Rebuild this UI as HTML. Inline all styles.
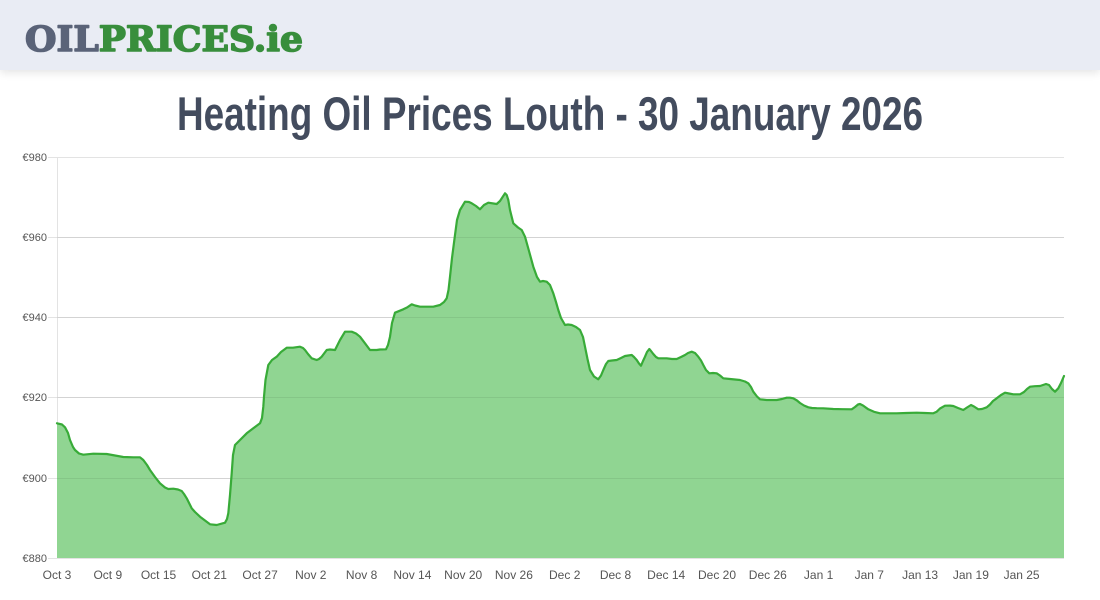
<!DOCTYPE html>
<html>
<head>
<meta charset="utf-8">
<style>
html,body{margin:0;padding:0;background:#fff;}
body{width:1100px;height:600px;overflow:hidden;position:relative;font-family:"Liberation Sans",Arial,sans-serif;}
.hdr{position:absolute;left:0;top:0;width:1100px;height:70px;background:#e9ecf4;box-shadow:0 3px 8px rgba(0,0,0,0.10);}
svg{position:absolute;left:0;top:0;}
</style>
</head>
<body>
<div class="hdr"></div>
<svg width="1100" height="600" viewBox="0 0 1100 600" xmlns="http://www.w3.org/2000/svg">
  <!-- logo -->
  <text x="25" y="51" font-family="DejaVu Serif, Liberation Serif, serif" font-weight="bold" font-size="35" stroke-width="1.6" stroke-linejoin="round" textLength="278" lengthAdjust="spacingAndGlyphs"><tspan fill="#5a6378" stroke="#5a6378">OIL</tspan><tspan fill="#388e3c" stroke="#388e3c">PRICES.ie</tspan></text>
  <!-- title -->
  <text x="177" y="130" font-family="Liberation Sans, Arial, sans-serif" font-weight="bold" font-size="47" fill="#434c5e" textLength="746" lengthAdjust="spacingAndGlyphs">Heating Oil Prices Louth - 30 January 2026</text>

  <!-- grid -->
  <g stroke="#e3e3e3" stroke-width="1">
    <line x1="48" y1="157.5" x2="1064" y2="157.5"/>
    <line x1="48" y1="237.5" x2="1064" y2="237.5"/>
    <line x1="48" y1="317.5" x2="1064" y2="317.5"/>
    <line x1="48" y1="397.5" x2="1064" y2="397.5"/>
    <line x1="48" y1="478.5" x2="1064" y2="478.5"/>
    <line x1="48" y1="558.5" x2="1064" y2="558.5"/>
    <line x1="57.5" y1="157" x2="57.5" y2="558"/>
  </g>

  <!-- area -->
  <path fill="#90d592" stroke="none" d="M57,558 L57,423.3 L62,424.5 L65,427.3 L68,433 L70,440 L73,447 L75,450 L79,453.5 L83.3,454.7 L93.3,453.7 L106.7,454 L115,455.5 L123.3,457 L133.3,457.3 L140,457.3 L143.3,460 L147,465 L150,470 L155,477 L160,483.3 L165,487.5 L168.3,489 L173.3,488.7 L178,489.5 L181.7,491 L184,494 L186.7,498.3 L191.7,508.3 L195,512 L200,516.7 L205,520.5 L210,524.3 L216.7,525 L225,522.7 L227,519 L228.3,513.3 L230,495 L231.7,473.3 L233,455 L235,445 L240,440 L246.7,433.3 L253.3,428.3 L260,423.3 L262,418 L263.3,406.7 L264,396.7 L265.5,380 L268.3,365 L272,360 L276.7,356.7 L281,352 L286.7,347.7 L293,347.7 L300,346.7 L303,348 L305,350 L308,354 L311.7,358.3 L316.7,360 L319,359 L321.7,356.7 L326.7,350 L330,349.5 L335,350 L337,346 L340,340 L345,331.7 L351.7,331.7 L356,333.5 L360,336.7 L365,343.3 L370,350 L376.7,350 L380,349.5 L386,349.3 L388,345 L390,336.7 L392,323 L395,312.7 L403.3,309.3 L407,307.5 L411.7,304.3 L415,305.5 L420,306.7 L433.3,306.7 L440,305 L444,302 L446.7,298.3 L448.5,290 L450,276.7 L452,258 L455,235 L457,220 L460,210 L465,201.7 L469,202 L471.7,203.3 L476,206 L480,209.3 L484,205 L488.3,202.7 L496.7,204 L500,201 L505,193.3 L506.7,195 L508.3,200 L510,210 L513.3,223.3 L518,227.5 L521.7,230 L525,236.7 L529,251 L533.3,266.7 L537,277 L540,281.7 L543,281 L546.7,281.7 L550,285 L553.3,293.3 L556,302 L558.3,310 L561,318 L565,325 L568,324.5 L571.7,325 L576,327 L580,330 L583,337 L585,346.7 L587.5,359 L590,370 L594,376.5 L598.3,379.3 L601,375.5 L603.3,370 L606,364 L608.3,361 L612,360.5 L616.7,360 L621,358 L625,356 L631.7,355 L634,357 L636.7,360 L639,363.5 L641,365.7 L643,361 L645,356.7 L647,352 L649.3,349 L651,351 L653.3,354 L656,357 L658.3,358.3 L666.7,358.3 L672,359 L676.7,359 L681,357 L685,355 L688,353 L691.7,351.7 L695,353 L698.3,356.7 L701,360.5 L703.3,365 L706,370 L709.3,373.3 L713,373 L716.7,373.3 L720,375.5 L723.3,378.3 L730,379 L740,380 L745,381.5 L748.3,383.3 L751,387 L753.3,391.7 L757,396.5 L760,399.3 L766.7,400 L776.7,400 L782,399 L786.7,397.7 L790,397.7 L793.3,398.3 L797,400.5 L800,403 L804,405.5 L808.3,407.3 L812,408 L816.7,408.2 L823.3,408.3 L833.3,409 L842,409.2 L851.7,409.3 L855,407 L858,404.5 L860,404 L863,405.5 L868.3,409.3 L874,411.8 L880,413.3 L888,413.3 L896.7,413.3 L906,413 L916.7,412.7 L925,413 L933.3,413.3 L936.7,411.7 L940,408.5 L945,405.7 L950,405.6 L953.3,406 L958,408 L963.3,410 L967,407.5 L971,405 L974,406.5 L978.3,409.3 L982,409 L986.7,407.3 L990,404.5 L993,401 L996.7,398.3 L1001,395 L1005,392.7 L1009,393.5 L1013.3,394.3 L1020,394.3 L1024,392 L1027,389 L1030,386.7 L1035,386.2 L1040,386 L1046,384 L1049,385 L1052,389 L1055,391.7 L1058.3,388.3 L1061,383 L1064,376 L1064,558 Z"/>

  <!-- grid over fill -->
  <g stroke="rgba(0,0,0,0.07)" stroke-width="1">
    <line x1="57" y1="237.5" x2="1064" y2="237.5"/>
    <line x1="57" y1="317.5" x2="1064" y2="317.5"/>
    <line x1="57" y1="397.5" x2="1064" y2="397.5"/>
    <line x1="57" y1="478.5" x2="1064" y2="478.5"/>
  </g>

  <!-- line -->
  <path fill="none" stroke="#38ab38" stroke-width="2.2" stroke-linejoin="round" stroke-linecap="round" d="M57,423.3 L62,424.5 L65,427.3 L68,433 L70,440 L73,447 L75,450 L79,453.5 L83.3,454.7 L93.3,453.7 L106.7,454 L115,455.5 L123.3,457 L133.3,457.3 L140,457.3 L143.3,460 L147,465 L150,470 L155,477 L160,483.3 L165,487.5 L168.3,489 L173.3,488.7 L178,489.5 L181.7,491 L184,494 L186.7,498.3 L191.7,508.3 L195,512 L200,516.7 L205,520.5 L210,524.3 L216.7,525 L225,522.7 L227,519 L228.3,513.3 L230,495 L231.7,473.3 L233,455 L235,445 L240,440 L246.7,433.3 L253.3,428.3 L260,423.3 L262,418 L263.3,406.7 L264,396.7 L265.5,380 L268.3,365 L272,360 L276.7,356.7 L281,352 L286.7,347.7 L293,347.7 L300,346.7 L303,348 L305,350 L308,354 L311.7,358.3 L316.7,360 L319,359 L321.7,356.7 L326.7,350 L330,349.5 L335,350 L337,346 L340,340 L345,331.7 L351.7,331.7 L356,333.5 L360,336.7 L365,343.3 L370,350 L376.7,350 L380,349.5 L386,349.3 L388,345 L390,336.7 L392,323 L395,312.7 L403.3,309.3 L407,307.5 L411.7,304.3 L415,305.5 L420,306.7 L433.3,306.7 L440,305 L444,302 L446.7,298.3 L448.5,290 L450,276.7 L452,258 L455,235 L457,220 L460,210 L465,201.7 L469,202 L471.7,203.3 L476,206 L480,209.3 L484,205 L488.3,202.7 L496.7,204 L500,201 L505,193.3 L506.7,195 L508.3,200 L510,210 L513.3,223.3 L518,227.5 L521.7,230 L525,236.7 L529,251 L533.3,266.7 L537,277 L540,281.7 L543,281 L546.7,281.7 L550,285 L553.3,293.3 L556,302 L558.3,310 L561,318 L565,325 L568,324.5 L571.7,325 L576,327 L580,330 L583,337 L585,346.7 L587.5,359 L590,370 L594,376.5 L598.3,379.3 L601,375.5 L603.3,370 L606,364 L608.3,361 L612,360.5 L616.7,360 L621,358 L625,356 L631.7,355 L634,357 L636.7,360 L639,363.5 L641,365.7 L643,361 L645,356.7 L647,352 L649.3,349 L651,351 L653.3,354 L656,357 L658.3,358.3 L666.7,358.3 L672,359 L676.7,359 L681,357 L685,355 L688,353 L691.7,351.7 L695,353 L698.3,356.7 L701,360.5 L703.3,365 L706,370 L709.3,373.3 L713,373 L716.7,373.3 L720,375.5 L723.3,378.3 L730,379 L740,380 L745,381.5 L748.3,383.3 L751,387 L753.3,391.7 L757,396.5 L760,399.3 L766.7,400 L776.7,400 L782,399 L786.7,397.7 L790,397.7 L793.3,398.3 L797,400.5 L800,403 L804,405.5 L808.3,407.3 L812,408 L816.7,408.2 L823.3,408.3 L833.3,409 L842,409.2 L851.7,409.3 L855,407 L858,404.5 L860,404 L863,405.5 L868.3,409.3 L874,411.8 L880,413.3 L888,413.3 L896.7,413.3 L906,413 L916.7,412.7 L925,413 L933.3,413.3 L936.7,411.7 L940,408.5 L945,405.7 L950,405.6 L953.3,406 L958,408 L963.3,410 L967,407.5 L971,405 L974,406.5 L978.3,409.3 L982,409 L986.7,407.3 L990,404.5 L993,401 L996.7,398.3 L1001,395 L1005,392.7 L1009,393.5 L1013.3,394.3 L1020,394.3 L1024,392 L1027,389 L1030,386.7 L1035,386.2 L1040,386 L1046,384 L1049,385 L1052,389 L1055,391.7 L1058.3,388.3 L1061,383 L1064,376"/>

  <!-- y labels -->
  <g font-family="Liberation Sans, Arial, sans-serif" font-size="11" fill="#555" text-anchor="end">
    <text x="47" y="161">€980</text>
    <text x="47" y="241">€960</text>
    <text x="47" y="321">€940</text>
    <text x="47" y="401">€920</text>
    <text x="47" y="482">€900</text>
    <text x="47" y="562">€880</text>
  </g>

  <!-- x labels -->
  <g font-family="Liberation Sans, Arial, sans-serif" font-size="12" fill="#555" text-anchor="middle">
    <text x="57" y="579">Oct 3</text>
    <text x="107.8" y="579">Oct 9</text>
    <text x="158.5" y="579">Oct 15</text>
    <text x="209.3" y="579">Oct 21</text>
    <text x="260.1" y="579">Oct 27</text>
    <text x="310.8" y="579">Nov 2</text>
    <text x="361.6" y="579">Nov 8</text>
    <text x="412.4" y="579">Nov 14</text>
    <text x="463.2" y="579">Nov 20</text>
    <text x="513.9" y="579">Nov 26</text>
    <text x="564.7" y="579">Dec 2</text>
    <text x="615.5" y="579">Dec 8</text>
    <text x="666.2" y="579">Dec 14</text>
    <text x="717" y="579">Dec 20</text>
    <text x="767.8" y="579">Dec 26</text>
    <text x="818.6" y="579">Jan 1</text>
    <text x="869.3" y="579">Jan 7</text>
    <text x="920.1" y="579">Jan 13</text>
    <text x="970.9" y="579">Jan 19</text>
    <text x="1021.6" y="579">Jan 25</text>
  </g>
</svg>
</body>
</html>
